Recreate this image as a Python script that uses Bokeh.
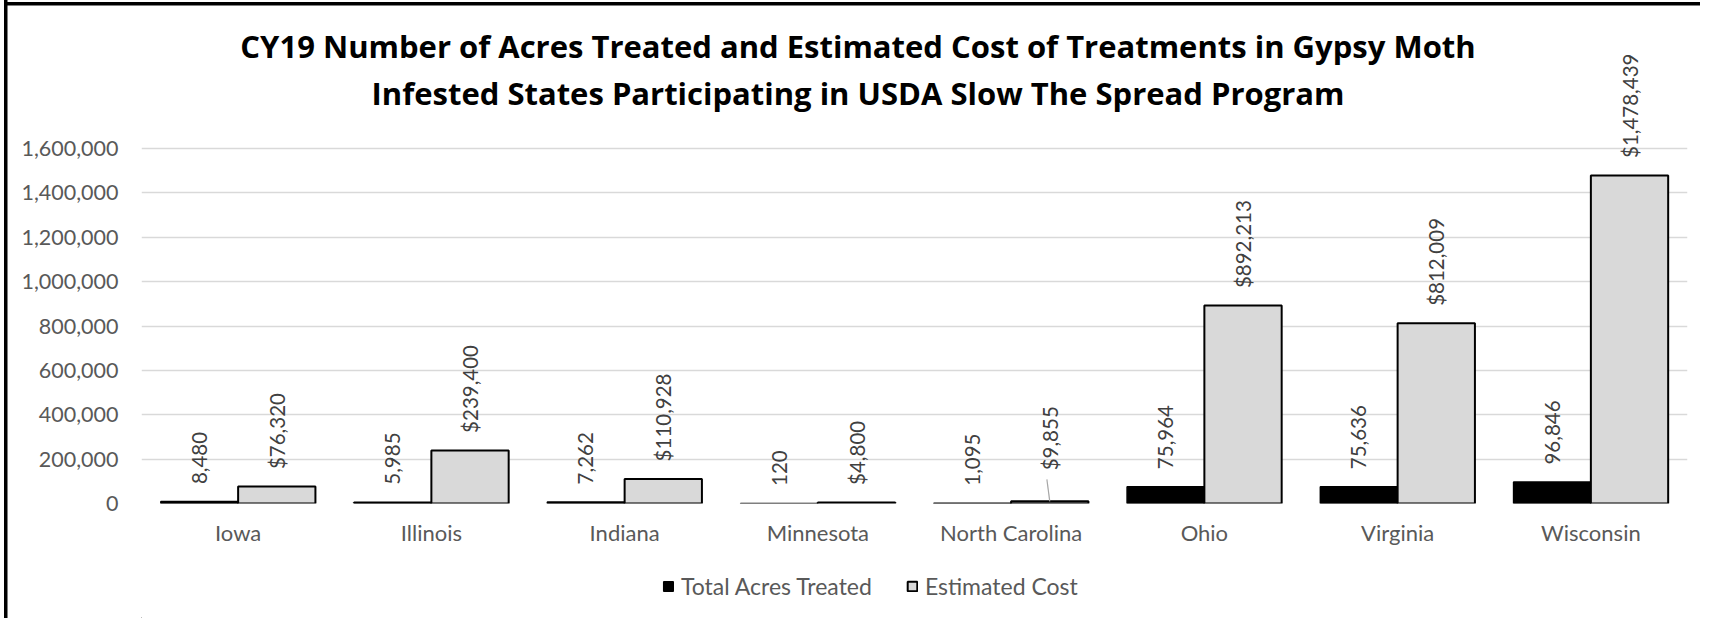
import math
from bokeh.plotting import figure
from bokeh.layouts import column
from bokeh.models import (ColumnDataSource, FactorRange, Range1d, LabelSet, Label, Legend,
                          LegendItem, FixedTicker, NumeralTickFormatter)
from bokeh.transform import dodge
from bokeh.core.properties import value
from bokeh.embed import file_html
from bokeh.resources import INLINE

# ---------------- data ----------------
states = ["Iowa", "Illinois", "Indiana", "Minnesota", "North Carolina", "Ohio", "Virginia", "Wisconsin"]
acres_treated = [8480, 5985, 7262, 120, 1095, 75964, 75636, 96846]
estimated_cost = [76320, 239400, 110928, 4800, 9855, 892213, 812009, 1478439]
y_ticks = [0, 200000, 400000, 600000, 800000, 1000000, 1200000, 1400000, 1600000]
series_names = ["Total Acres Treated", "Estimated Cost"]
title_lines = ["CY19 Number of Acres Treated and Estimated Cost of Treatments in Gypsy Moth",
               "Infested States Participating in USDA Slow The Spread Program"]

# ---------------- geometry (canvas px) ----------------
W = 1700
H1, H2 = 568, 50
LEFT, RIGHT_B, TOP_B = 141, 13, 10
ZERO_Y = 503
BOTTOM_B = H1 - ZERO_Y
FRAME_H = H1 - TOP_B - BOTTOM_B
TOP_TICK_PX = 355                      # pixels from 0 to top tick
UNITS_PER_PX = y_ticks[-1] / TOP_TICK_PX
YMAX = FRAME_H * UNITS_PER_PX
CAT_W = (W - LEFT - RIGHT_B) / len(states)

def y_at(canvas_y):
    return (ZERO_Y - canvas_y) * UNITS_PER_PX

def x_at(canvas_x):
    return (canvas_x - LEFT) / CAT_W

FONT = "Lato"
TITLE_FONT = "Open Sans"
GREY_TXT = "#595959"
LBL_TXT = "#404040"
COST_FILL = "#d9d9d9"
LEFT_BAND = "linear-gradient(black, black) 4px 0px / 3.5px 100% no-repeat"
TOP_BAND = "linear-gradient(black, black) 4px 2px / 100% 3.5px no-repeat"

p = figure(x_range=FactorRange(factors=states), y_range=Range1d(0, YMAX),
           width=W, height=H1, output_backend="svg", toolbar_location=None,
           min_border_left=LEFT, min_border_right=RIGHT_B,
           min_border_top=TOP_B, min_border_bottom=BOTTOM_B)
p.outline_line_color = None
p.background_fill_color = "white"
p.border_fill_alpha = 0
p.styles = {"background": f"{TOP_BAND}, {LEFT_BAND}, white"}

gap = 17.5
cost_off = [gap] * len(states)
cost_off[states.index("North Carolina")] = 31

src = ColumnDataSource(dict(
    state=states, acres=acres_treated, cost=estimated_cost,
    acres_lbl=[f"{v:,}" for v in acres_treated],
    cost_lbl=[f"${v:,}" for v in estimated_cost],
    acres_off=[gap] * len(states), cost_off=cost_off,
))

p.vbar(x=dodge("state", -0.2, range=p.x_range), top="acres", width=0.4, source=src,
       fill_color="black", line_color="black", line_width=1.5)
p.vbar(x=dodge("state", 0.2, range=p.x_range), top="cost", width=0.4, source=src,
       fill_color=COST_FILL, line_color="black", line_width=2)

# leader line for the small North Carolina cost label
nc = states.index("North Carolina")
lead_src = ColumnDataSource(dict(state=[states[nc]], y0=[estimated_cost[nc]],
                                 y1=[estimated_cost[nc] + 22 * UNITS_PER_PX]))
p.segment(x0=dodge("state", 0.2, range=p.x_range), y0="y0",
          x1=dodge("state", 0.185, range=p.x_range), y1="y1",
          source=lead_src, line_color="#a6a6a6", line_width=1.2)

for xoff, ycol, tcol, ocol in [(-0.2, "acres", "acres_lbl", "acres_off"),
                                (0.2, "cost", "cost_lbl", "cost_off")]:
    ls = LabelSet(x=dodge("state", xoff, range=p.x_range), y=ycol, text=tcol, y_offset=ocol,
                  source=src, angle=math.pi / 2, text_align="left", text_baseline="middle",
                  text_font=value(FONT), text_font_size="20.5px", text_color=LBL_TXT)
    p.add_layout(ls)

# title (centered on whole chart area)
tx = x_at(857.5)
for line, by in zip(title_lines, [45.8, 92]):
    p.add_layout(Label(x=tx, y=y_at(by), text=line, text_align="center",
                       text_baseline="alphabetic", text_font=TITLE_FONT, text_font_style="bold",
                       text_font_size="31px", text_color="black"))

# axes
p.yaxis.ticker = FixedTicker(ticks=y_ticks)
p.yaxis.formatter = NumeralTickFormatter(format="0,0")
p.yaxis.axis_line_color = None
p.yaxis.major_tick_line_color = None
p.yaxis.minor_tick_line_color = None
p.yaxis.major_tick_out = 0
p.yaxis.major_label_standoff = 23
p.yaxis.major_label_text_font = FONT
p.yaxis.major_label_text_font_size = "21.5px"
p.yaxis.major_label_text_color = GREY_TXT

p.xaxis.axis_line_color = None
p.xaxis.major_tick_line_color = None
p.xaxis.major_tick_out = 0
p.xaxis.major_label_standoff = 15
p.xaxis.major_label_text_font = FONT
p.xaxis.major_label_text_font_size = "22px"
p.xaxis.major_label_text_color = GREY_TXT

p.xgrid.grid_line_color = None
p.ygrid.grid_line_color = "#d9d9d9"
p.ygrid.grid_line_width = 1.5

# ---------------- legend strip ----------------
p2 = figure(width=W, height=H2, x_range=Range1d(0, 1), y_range=Range1d(0, 1),
            output_backend="svg", toolbar_location=None, min_border=0)
p2.axis.visible = False
p2.grid.grid_line_color = None
p2.outline_line_color = None
p2.border_fill_alpha = 0
p2.background_fill_alpha = 0
p2.styles = {"background": f"{LEFT_BAND}, white"}
g1 = p2.vbar(x=[-5], top=[-5], bottom=[-6], width=0.1,
             fill_color="black", line_color="black", line_width=1.5)
g2 = p2.vbar(x=[-5], top=[-5], bottom=[-6], width=0.1,
             fill_color=COST_FILL, line_color="black", line_width=2)
legend = Legend(items=[LegendItem(label=series_names[0], renderers=[g1]),
                       LegendItem(label=series_names[1], renderers=[g2])],
                orientation="horizontal", location=(662 - LEFT, 18),
                glyph_width=12, glyph_height=12, label_standoff=7, spacing=34,
                padding=0, margin=0, border_line_color=None, background_fill_alpha=0,
                label_text_font=FONT, label_text_font_size="23px", label_text_color=GREY_TXT)
p2.add_layout(legend)

layout = column(p, p2, spacing=0)

open("out.html", "w").write(file_html(layout, INLINE))
